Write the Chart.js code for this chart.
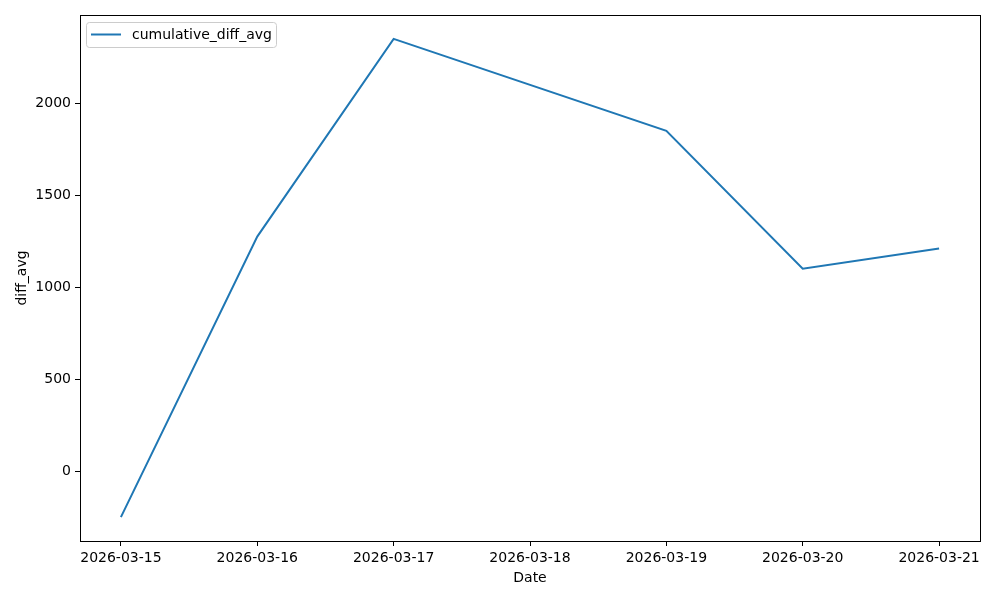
<!DOCTYPE html>
<html>
<head>
    <style>
        body, html {
            margin: 0;
            padding: 0;
            background: white;
        }
        #wrap {
            width: 1000px;
            height: 600px;
            position: relative;
        }
    </style>
    <script src="https://cdn.jsdelivr.net/npm/chart.js"></script>
</head>
<body>
    <div id="wrap">
        <canvas id="diffChart"></canvas>
    </div>

    <script>
        // data (no point on 03-18, line just passes it)
        const dates = ['2026-03-15', '2026-03-16', '2026-03-17', '2026-03-19', '2026-03-20', '2026-03-21'];
        const diffAvg = [-250, 1275, 2350, 1850, 1100, 1210];
        const tickDates = ['2026-03-15', '2026-03-16', '2026-03-17', '2026-03-18', '2026-03-19', '2026-03-20', '2026-03-21'];
        const yTicks = [0, 500, 1000, 1500, 2000];
        const seriesName = 'cumulative_diff_avg';

        const FONT = 'DejaVu Sans';
        const FS = 14;
        const dayIndex = d => tickDates.indexOf(d);

        // frame on all four sides + matplotlib style legend box
        const framePlugin = {
            id: 'frame',
            afterDraw(chart) {
                const ctx = chart.ctx;
                const a = chart.chartArea;
                ctx.save();
                ctx.strokeStyle = '#000';
                ctx.lineWidth = 1;
                ctx.strokeRect(Math.round(a.left) + 0.5, Math.round(a.top) + 0.5,
                    Math.round(a.right - a.left), Math.round(a.bottom - a.top));

                // legend
                const x = a.left + 6, y = a.top + 7, w = 190, h = 25;
                ctx.beginPath();
                ctx.roundRect(x + 0.5, y + 0.5, w, h, 3);
                ctx.fillStyle = 'rgba(255,255,255,0.8)';
                ctx.fill();
                ctx.strokeStyle = '#cccccc';
                ctx.stroke();
                ctx.beginPath();
                ctx.moveTo(x + 5, y + 12.5);
                ctx.lineTo(x + 35, y + 12.5);
                ctx.strokeStyle = '#1f77b4';
                ctx.lineWidth = 2;
                ctx.stroke();
                ctx.fillStyle = '#000';
                ctx.font = FS + 'px "' + FONT + '"';
                ctx.textBaseline = 'middle';
                ctx.fillText(seriesName, x + 46, y + 13);
                ctx.restore();
            }
        };

        const ctx = document.getElementById('diffChart').getContext('2d');
        const chart = new Chart(ctx, {
            type: 'line',
            data: {
                datasets: [{
                    label: seriesName,
                    data: dates.map((d, i) => ({ x: dayIndex(d), y: diffAvg[i] })),
                    borderColor: '#1f77b4',
                    borderWidth: 2,
                    pointRadius: 0,
                    tension: 0,
                    fill: false
                }]
            },
            options: {
                responsive: true,
                maintainAspectRatio: false,
                animation: false,
                layout: {
                    padding: { top: 15, right: 20, bottom: 0, left: 0 }
                },
                plugins: {
                    legend: { display: false },
                    tooltip: { enabled: false }
                },
                scales: {
                    x: {
                        type: 'linear',
                        min: -0.3,
                        max: 6.3,
                        afterBuildTicks: s => { s.ticks = tickDates.map((d, i) => ({ value: i })); },
                        afterFit: s => { s.height = 59; },
                        ticks: {
                            color: '#000',
                            font: { family: FONT, size: FS },
                            padding: 4,
                            maxRotation: 0,
                            autoSkip: false,
                            callback: v => tickDates[v]
                        },
                        grid: {
                            drawOnChartArea: false,
                            color: '#000',
                            tickLength: 5
                        },
                        border: { display: true, color: '#000' },
                        title: {
                            display: true,
                            text: 'Date',
                            color: '#000',
                            font: { family: FONT, size: FS },
                            padding: { top: 2, bottom: 13 }
                        }
                    },
                    y: {
                        min: -380,
                        max: 2480,
                        afterBuildTicks: s => { s.ticks = yTicks.map(v => ({ value: v })); },
                        afterFit: s => { s.width = 80; },
                        ticks: {
                            color: '#000',
                            font: { family: FONT, size: FS },
                            padding: 4,
                            callback: v => String(v)
                        },
                        grid: {
                            drawOnChartArea: false,
                            color: '#000',
                            tickLength: 5
                        },
                        border: { display: true, color: '#000' },
                        title: {
                            display: true,
                            text: 'diff_avg',
                            color: '#000',
                            font: { family: FONT, size: FS },
                            padding: { top: 14, bottom: 0 }
                        }
                    }
                }
            },
            plugins: [framePlugin]
        });
    </script>
</body>
</html>
